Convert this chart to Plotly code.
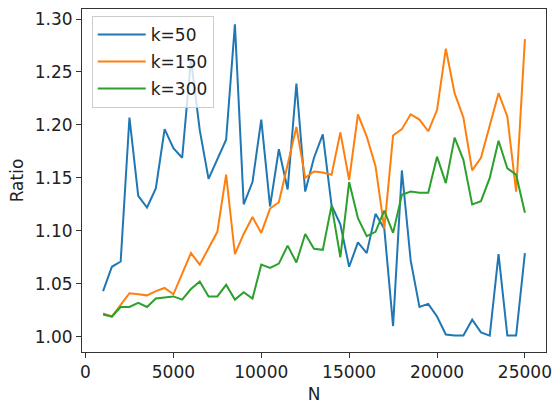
import plotly.graph_objects as go

# Problem sizes
N = list(range(1000, 25001, 500))

# Approximation ratio for each neighbourhood size k
ratio_k50 = [1.043, 1.066, 1.071, 1.207, 1.133, 1.122, 1.140, 1.196, 1.178, 1.169,
             1.262, 1.195, 1.149, 1.167, 1.186, 1.295, 1.125, 1.146, 1.205, 1.123,
             1.177, 1.139, 1.239, 1.137, 1.169, 1.191, 1.124, 1.106, 1.066, 1.089,
             1.079, 1.116, 1.102, 1.010, 1.157, 1.072, 1.028, 1.031, 1.019, 1.002,
             1.001, 1.001, 1.016, 1.004, 1.001, 1.078, 1.001, 1.001, 1.079]
ratio_k150 = [1.022, 1.019, 1.030, 1.041, 1.040, 1.039, 1.043, 1.046, 1.040, 1.060,
              1.079, 1.068, 1.084, 1.099, 1.153, 1.078, 1.097, 1.113, 1.098, 1.121,
              1.127, 1.163, 1.198, 1.150, 1.156, 1.155, 1.153, 1.193, 1.148, 1.210,
              1.189, 1.161, 1.102, 1.190, 1.196, 1.210, 1.205, 1.194, 1.214, 1.272,
              1.230, 1.207, 1.157, 1.169, 1.199, 1.230, 1.208, 1.137, 1.281]
ratio_k300 = [1.021, 1.019, 1.028, 1.028, 1.032, 1.028, 1.036, 1.037, 1.038, 1.035,
              1.045, 1.052, 1.038, 1.038, 1.049, 1.035, 1.042, 1.036, 1.068, 1.065,
              1.069, 1.086, 1.070, 1.097, 1.083, 1.082, 1.124, 1.075, 1.146, 1.112,
              1.095, 1.099, 1.119, 1.098, 1.134, 1.137, 1.136, 1.136, 1.170, 1.145,
              1.188, 1.167, 1.125, 1.128, 1.150, 1.185, 1.159, 1.153, 1.117]

series = [
    ("k=50", ratio_k50, "#1f77b4"),
    ("k=150", ratio_k150, "#ff7f0e"),
    ("k=300", ratio_k300, "#2ca02c"),
]

x_ticks = [0, 5000, 10000, 15000, 20000, 25000]
y_ticks = [1.00, 1.05, 1.10, 1.15, 1.20, 1.25, 1.30]

FONT = "DejaVu Sans"
TEXT = "#222222"
FS = 17

fig = go.Figure()
for name, values, color in series:
    fig.add_trace(go.Scatter(
        x=N, y=values, name=name, mode="lines", legendgroup=name,
        line=dict(color=color, width=2),
    ))

axis_common = dict(
    showgrid=False, zeroline=False,
    showline=True, linecolor="#333333", linewidth=1, mirror=True,
    ticks="outside", ticklen=5, tickwidth=1, tickcolor="#333333",
    tickfont=dict(family=FONT, size=FS, color=TEXT),
)

fig.update_xaxes(
    range=[-200, 26200], tickvals=x_ticks,
    ticktext=[str(v) for v in x_ticks],
    title=dict(text="N", font=dict(family=FONT, size=FS, color=TEXT), standoff=6),
    **axis_common,
)
fig.update_yaxes(
    range=[0.9855, 1.3095], tickvals=y_ticks,
    ticktext=[f"{v:.2f}" for v in y_ticks],
    title=dict(text="Ratio", font=dict(family=FONT, size=FS, color=TEXT), standoff=6),
    **axis_common,
)

fig.update_layout(
    width=560, height=408,
    margin=dict(l=82, r=8, t=8, b=51),
    plot_bgcolor="white", paper_bgcolor="white",
    font=dict(family=FONT, size=FS, color=TEXT),
    legend=dict(
        x=0.021, y=0.98, xanchor="left", yanchor="top",
        bgcolor="rgba(255,255,255,0.8)", bordercolor="#cccccc", borderwidth=1,
        font=dict(family=FONT, size=FS, color=TEXT),
        itemwidth=48, tracegroupgap=2,
    ),
)

fig.write_html("out.html")
